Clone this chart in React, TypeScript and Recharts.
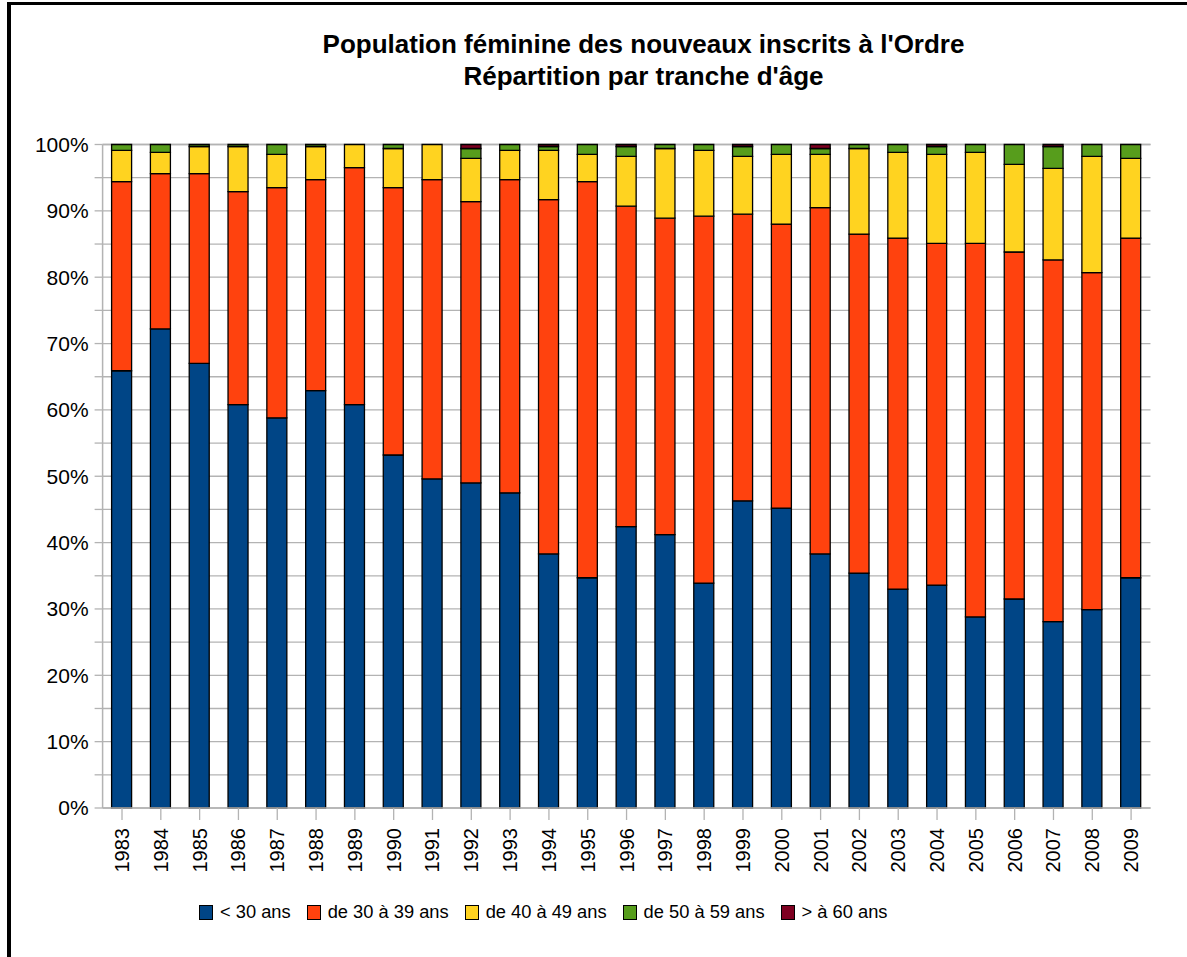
import { BarChart, Bar, XAxis, YAxis, CartesianGrid } from 'recharts'

const years = [
  '1983', '1984', '1985', '1986', '1987', '1988', '1989', '1990', '1991',
  '1992', '1993', '1994', '1995', '1996', '1997', '1998', '1999', '2000',
  '2001', '2002', '2003', '2004', '2005', '2006', '2007', '2008', '2009',
]

// parts en % de chaque tranche d'âge
const moins30 = [65.9, 72.2, 67.0, 60.8, 58.8, 62.9, 60.8, 53.2, 49.6, 49.0, 47.5, 38.3, 34.7, 42.4, 41.2, 33.9, 46.3, 45.2, 38.3, 35.4, 33.0, 33.6, 28.8, 31.5, 28.1, 29.9, 34.7]
const de30a39 = [28.5, 23.4, 28.6, 32.1, 34.7, 31.8, 35.7, 40.3, 45.1, 42.4, 47.2, 53.4, 59.7, 48.3, 47.7, 55.3, 43.2, 42.8, 52.2, 51.1, 52.9, 51.5, 56.3, 52.3, 54.5, 50.8, 51.2]
const de40a49 = [4.7, 3.2, 4.1, 6.8, 5.0, 5.0, 3.5, 5.9, 5.3, 6.5, 4.4, 7.4, 4.1, 7.5, 10.5, 9.9, 8.7, 10.5, 8.0, 12.9, 12.9, 13.4, 13.7, 13.2, 13.8, 17.5, 12.0]
const de50a59 = [0.9, 1.2, 0.3, 0.3, 1.5, 0.3, 0, 0.6, 0, 1.5, 0.9, 0.6, 1.5, 1.5, 0.6, 0.9, 1.5, 1.5, 0.9, 0.6, 1.2, 1.2, 1.2, 3.0, 3.3, 1.8, 2.1]
const plus60 = [0, 0, 0, 0, 0, 0, 0, 0, 0, 0.6, 0, 0.3, 0, 0.3, 0, 0, 0.3, 0, 0.6, 0, 0, 0.3, 0, 0, 0.3, 0, 0]

const seriesKeys = ['moins30', 'de30a39', 'de40a49', 'de50a59', 'plus60']
const seriesNames = ['< 30 ans', 'de 30 à 39 ans', 'de 40 à 49 ans', 'de 50 à 59 ans', '> à 60 ans']
const seriesColors = ['#004586', '#ff420e', '#ffd320', '#579d1c', '#7e0021']

const yTicks = [0, 5, 10, 15, 20, 25, 30, 35, 40, 45, 50, 55, 60, 65, 70, 75, 80, 85, 90, 95, 100]

const data = years.map((year, i) => ({
  year,
  moins30: moins30[i],
  de30a39: de30a39[i],
  de40a49: de40a49[i],
  de50a59: de50a59[i],
  plus60: plus60[i],
}))

const font = '"Liberation Sans", Arial, sans-serif'
const grey = '#b3b3b3'

function YearTick({ x, y, payload }: any) {
  return (
    <text
      x={x}
      y={y}
      transform={`rotate(-90, ${x}, ${y})`}
      textAnchor="end"
      dominantBaseline="central"
      fontSize={20}
      fontFamily={font}
      fill="#000"
    >
      {payload.value}
    </text>
  )
}

export default function App() {
  return (
    <div style={{ position: 'absolute', left: 0, top: 0, width: 1187, height: 957, background: '#fff', fontFamily: font }}>
      <div style={{ position: 'absolute', left: 7, top: 2, width: 1180, height: 955, borderLeft: '4px solid #000', borderTop: '3px solid #000', boxSizing: 'border-box' }} />
      <div style={{ position: 'absolute', left: 0, top: 28, width: 1287, textAlign: 'center', fontWeight: 'bold', fontSize: 26, lineHeight: '32px', color: '#000' }}>
        Population féminine des nouveaux inscrits à l'Ordre
        <br />
        Répartition par tranche d'âge
      </div>
      <div style={{ position: 'absolute', left: 0, top: 0 }}>
        <BarChart width={1187} height={957} data={data} margin={{ top: 144.5, right: 36.5, left: 0, bottom: 79 }} barSize={20}>
          <CartesianGrid vertical={false} stroke={grey} strokeWidth={1.3} />
          <XAxis
            dataKey="year"
            height={70}
            interval={0}
            tickSize={12}
            tickMargin={8}
            stroke={grey}
            tickLine={{ stroke: grey, strokeWidth: 1.3 }}
            axisLine={{ stroke: grey, strokeWidth: 1.5 }}
            tick={<YearTick />}
          />
          <YAxis
            width={102.6}
            domain={[0, 100]}
            ticks={yTicks}
            interval={0}
            tickSize={8}
            tickMargin={6}
            tickFormatter={(v: number) => (v % 10 === 0 ? `${v}%` : '')}
            tick={{ fill: '#000', fontSize: 21, fontFamily: font }}
            tickLine={{ stroke: grey, strokeWidth: 1.3 }}
            axisLine={{ stroke: grey, strokeWidth: 1.5 }}
          />
          <YAxis yAxisId="right" orientation="right" width={0} domain={[0, 100]} tick={false} tickLine={false} axisLine={{ stroke: grey, strokeWidth: 1.5 }} />
          {seriesKeys.map((key, i) => (
            <Bar
              key={key}
              dataKey={key}
              name={seriesNames[i]}
              stackId="a"
              fill={seriesColors[i]}
              stroke="#000"
              strokeWidth={1.3}
              isAnimationActive={false}
            />
          ))}
        </BarChart>
      </div>
      <div style={{ position: 'absolute', left: 199, top: 901, display: 'flex', alignItems: 'center', fontSize: 18.3, color: '#000', whiteSpace: 'nowrap' }}>
        {seriesNames.map((name, i) => (
          <div key={name} style={{ display: 'flex', alignItems: 'center', marginRight: 16 }}>
            <span style={{ display: 'inline-block', width: 12, height: 13, background: seriesColors[i], border: '1px solid #000', marginRight: 7 }} />
            <span>{name}</span>
          </div>
        ))}
      </div>
    </div>
  )
}
